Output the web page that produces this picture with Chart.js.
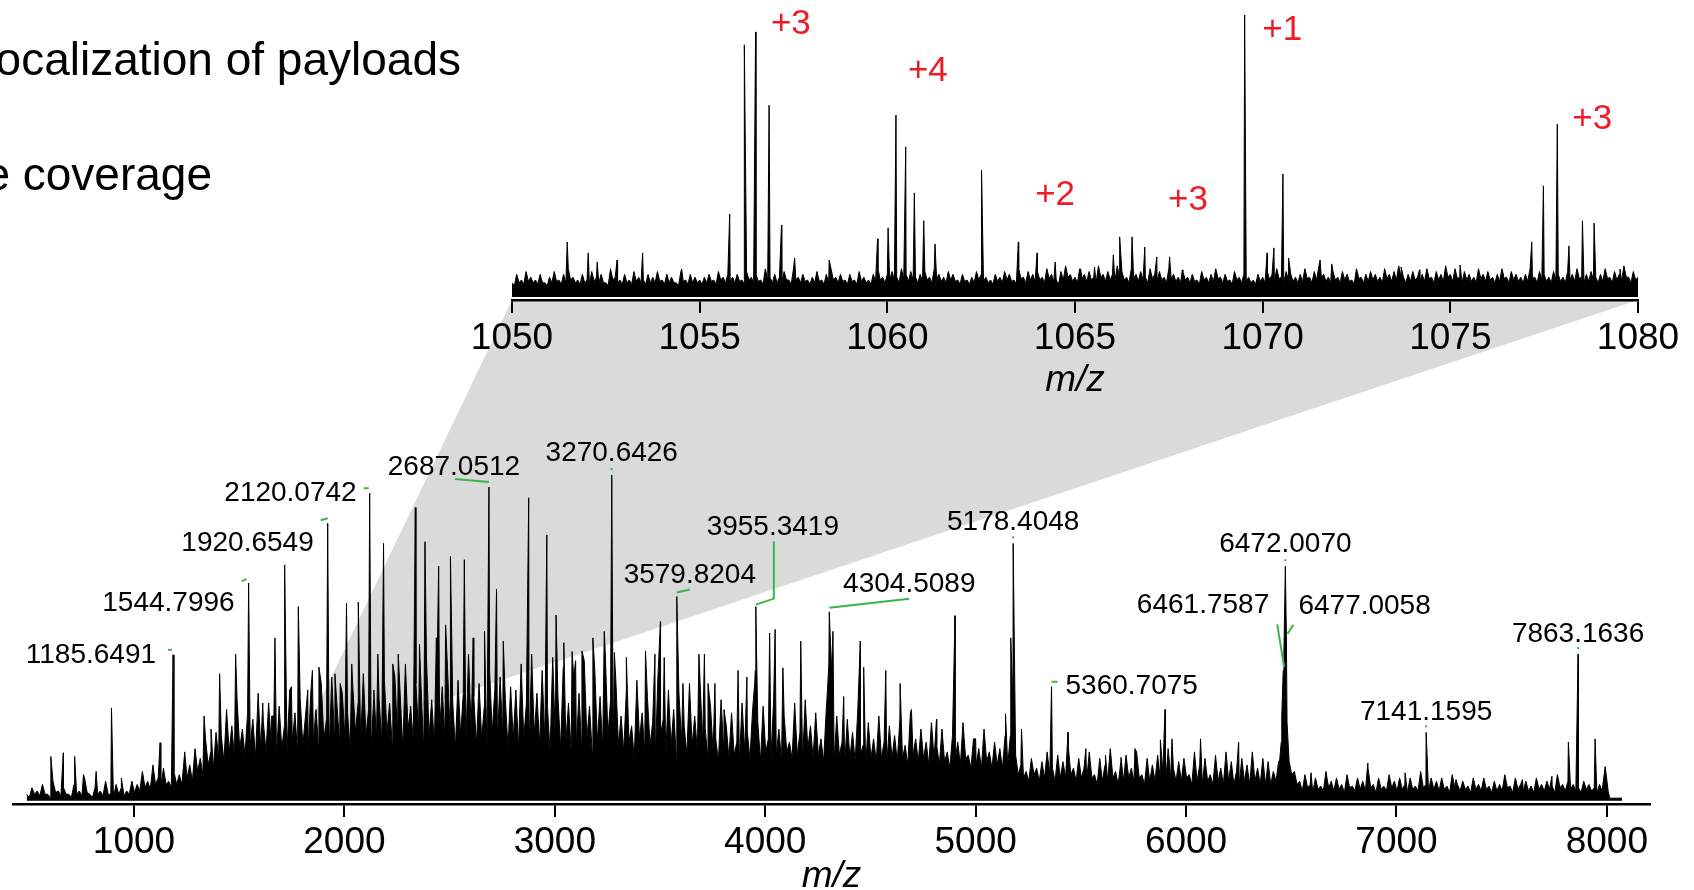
<!DOCTYPE html>
<html>
<head>
<meta charset="utf-8">
<title>Mass spectrum</title>
<script src="https://cdn.jsdelivr.net/npm/chart.js@4.4.1/dist/chart.umd.min.js"></script>
<style>
  html, body { margin: 0; padding: 0; background: #fff; }
  #wrap { position: relative; width: 1694px; height: 890px; overflow: hidden; }
  canvas { position: absolute; left: 0; top: 0; }
</style>
</head>
<body>
<div id="wrap">
  <canvas id="mainCanvas" width="1694" height="890"></canvas>
  <canvas id="insetCanvas" width="1694" height="890"></canvas>
</div>
<script>
const FONT = "'Liberation Sans', Arial, Helvetica, sans-serif";
const GREEN = '#39b54a';
const RED = '#ed1c24';

// ---- main spectrum (m/z 500 - 8000), intensity in % of the 3270 peak ----
const mainTickValues = [1000, 2000, 3000, 4000, 5000, 6000, 7000, 8000];
// spike tops, every 25 m/z from 490
const mainNoiseStart = 490;
const mainNoiseStep = 25;
const mainNoise = [
  2, 4, 3, 5, 2, 6, 3, 4, 2, 5, 3, 7, 2, 4, 3, 6, 2, 5, 4, 3, 6,           // 490-990
  5, 9, 6, 11, 7, 10, 6, 9,                                                // 1015-1190
  8, 14, 11, 16, 13, 19, 15, 21,                                           // 1215-1390
  20, 28, 23, 31, 22, 27, 25, 33, 24, 30, 26, 29, 23, 34, 27, 31,          // 1415-1790
  26, 33, 28, 36, 25, 38, 29, 33, 27, 35, 30, 39, 28, 34, 31, 37,          // 1815-2190
  30, 38, 33, 42, 29, 36, 34, 44, 31, 39, 35, 41, 30, 37, 33, 45, 32, 36, 29, 40, 34, 38, 31, 35, // 2215-2790
  34, 42, 30, 45, 33, 40, 29, 44, 32, 41, 30, 38, 33, 43, 29, 40, 32, 45, 31, 37, // 2815-3290
  26, 34, 23, 37, 27, 32, 24, 38, 25, 34, 28, 33, 23, 36, 26, 37,          // 3315-3690
  22, 29, 19, 31, 23, 27, 18, 30, 21, 28, 24, 29, 19, 31, 22, 26, 18, 30, 21, 31, 23, 27, 19, 28, // 3715-4290
  40, 26, 18, 25, 21, 28, 17, 24, 19, 26, 18, 23, 20, 25, 17, 27, 19, 22, 18, 24, // 4315-4790
  17, 22, 15, 20, 18, 24, 14, 19, 16, 22, 15, 18, 16, 20,                  // 4815-5140
  20, 14, 11, 9, 13, 10, 12, 15, 10, 14, 12, 17, 10, 13,                   // 5165-5490
  10, 15, 8, 13, 11, 16, 9, 12, 14, 10, 15, 8, 13, 11, 14, 9, 16, 10, 12, 13,
  8, 15, 11, 13, 8, 14, 10, 15, 12, 9, 13, 11, 15, 10, 13, 12,             // 5515-6390
  9, 12, 45, 12, 9,                                                        // 6415-6515
  6, 8, 5, 7, 4.5, 9, 6, 7, 5, 8, 4.5, 7, 6, 10, 5, 7, 4.5, 8, 6, 7,
  5, 7, 4.5, 9, 5, 7, 6, 7, 4.5, 8, 5, 6, 4.5, 7, 5, 7, 4.5, 6, 5, 8,
  4.5, 7, 5, 6, 4.5, 7, 5, 6, 4.5, 8,                                      // 6540-7790
  5, 6, 5, 4, 6, 5, 4, 5                                                   // 7815-7990
];
// gaps between the spikes, every 25 m/z from 502.5
const mainValleyStart = 502.5;
const mainValleys = [
  1, 2, 1.5, 2, 1, 2.5, 1.5, 2, 1, 2, 1.5, 2.5, 1, 2, 1.5, 2, 1, 2, 1.5, 2, 2.5,
  3, 4, 3.5, 5, 4, 5, 4, 5,
  5, 7, 6, 9, 8, 11, 10, 13,
  12, 15, 13, 16, 14, 17, 13, 16, 15, 17, 14, 16, 15, 18, 14, 17,
  15, 18, 16, 19, 15, 20, 17, 19, 16, 21, 18, 20, 16, 19, 18, 21,
  17, 20, 16, 22, 18, 21, 15, 20, 17, 22, 19, 21, 16, 20, 18, 22, 17, 19, 15, 21, 18, 20, 16, 19,
  16, 19, 15, 20, 17, 18, 15, 19, 16, 18, 15, 17, 16, 19, 15, 18, 16, 20, 15, 17,
  15, 18, 13, 19, 15, 17, 13, 20, 14, 17, 13, 18, 14, 17, 15, 18,
  13, 15, 12, 16, 13, 14, 12, 15, 13, 40, 12, 15, 13, 14, 12, 15, 13, 14, 12, 16, 13, 14, 12, 42,
  12, 14, 11, 13, 12, 14, 11, 13, 12, 13, 11, 13, 12, 13, 11, 14, 12, 13, 11, 13,
  11, 12, 10, 12, 11, 13, 10, 11, 10, 12, 10, 11, 10, 11,
  30, 8, 7, 6, 8, 6, 7, 8, 6, 7, 7, 8, 6, 7,
  6, 7, 5, 6, 6, 7, 5, 6, 7, 6, 7, 5, 6, 6, 7, 5, 7, 6, 6, 7,
  5, 6, 5, 6, 5, 6, 5, 6, 5, 5, 6, 5, 6, 5, 5, 5,
  6, 18, 45, 8, 5,
  3, 4, 2.5, 3.5, 3, 4, 3, 3.5, 2.5, 4, 3, 3.5, 3, 4, 2.5, 3.5, 3, 4, 3, 3.5,
  2.5, 3.5, 3, 4, 3, 3.5, 3, 3.5, 2.5, 4, 3, 3.5, 2.5, 3.5, 3, 3.5, 2.5, 3, 3, 4,
  2.5, 3.5, 3, 3, 2.5, 3.5, 3, 3.5, 2.5, 4,
  3, 3.5, 3, 2.5, 3.5, 3, 2.5, 3
];
const mainPeaks = [
  [605, 13.6], [664, 14.7], [718, 13.6], [760, 8], [820, 9], [893, 28.5], [940, 7],
  [1124, 17.8], [1185.6491, 44.8], [1241, 15], [1333, 26], [1366, 22], [1407, 39],
  [1483, 45], [1544.7996, 66.8], [1612, 30], [1654, 26], [1670, 50], [1716, 72.4],
  [1748, 35], [1781, 59.6], [1826, 34], [1848, 40], [1879, 41], [1916, 34],
  [1920.6549, 85.2], [1955, 39], [1980, 36], [2010, 60.7], [2035, 42], [2066, 61],
  [2120.0742, 94.4], [2139, 31], [2159, 45], [2186, 79], [2230, 42], [2256, 45],
  [2337, 90], [2357, 48], [2383, 79.5], [2437, 50], [2448, 72], [2481, 54], [2504, 75],
  [2570, 74], [2612, 50], [2666, 52], [2687.0512, 96.3], [2723, 65], [2755, 49],
  [2876, 93], [2962, 81.6], [3006, 57], [3043, 48.5], [3082, 45.8], [3099, 43],
  [3129, 46], [3181, 50], [3235, 52], [3270.6426, 100], [3283, 45.5], [3340, 44],
  [3431, 46], [3476, 45], [3502, 55], [3520, 44], [3579.8204, 62.7], [3609, 36],
  [3685, 45], [3711, 45], [3728, 36], [3761, 36], [3804, 28], [3871, 40], [3913, 38],
  [3950, 36], [3955.3419, 59.6], [3959, 45], [4021, 51.5], [4047, 52.6], [4084, 40.8],
  [4169, 49], [4295, 33], [4304.5089, 58], [4322, 52], [4373, 32], [4452, 49],
  [4468, 41], [4573, 40], [4641, 36], [4695, 28], [4814, 25], [4902, 56.8], [5000, 19],
  [5142, 26.7], [5167, 50], [5178.4048, 79], [5218, 22], [5360.7075, 35], [5439, 21],
  [5524, 16], [5617, 14], [5691, 13.3], [5757, 16], [5878, 18.7], [5900, 28], [5933, 19],
  [6069, 19], [6250, 18], [6445, 12.5], [6455, 26], [6461.7587, 40], [6472.0070, 72],
  [6477.0058, 50], [6480, 24], [6594, 8.6], [6864, 11.6], [7041, 8.6], [7141.1595, 21],
  [7283, 6.5], [7599, 6.5], [7739, 7.5], [7817, 18], [7863.1636, 45], [7944, 19],
  [7992, 10.5]
];
const mainTail = [[8008, 2], [8010, 0.8], [8072, 0.8]];

const mainLabels = [
  '1185.6491', '1544.7996', '1920.6549', '2120.0742', '2687.0512', '3270.6426',
  '3579.8204', '3955.3419', '4304.5089', '5178.4048', '5360.7075', '6472.0070',
  '6461.7587', '6477.0058', '7141.1595', '7863.1636'
];
// text offset and green leader line, in pixels from the peak top
const labelLayout = [
  { dx: -17, dy: 0, align: 'right', lead: [[-5, -5], [-1, -5]] },
  { dx: -14, dy: 20, align: 'right', lead: [[-7, -2], [-2, -4]] },
  { dx: -14, dy: 20, align: 'right', lead: [[-7, -3], [0, -5]] },
  { dx: -13, dy: 0, align: 'right', lead: [[-6, -5], [-1, -5]] },
  { dx: -35, dy: -20, align: 'center', lead: [[-34, -8], [0, -5]] },
  { dx: 0, dy: -22, align: 'center', lead: [[0, -7], [0, -5]] },
  { dx: 13, dy: -21, align: 'center', lead: [[0, -4], [13, -7]] },
  { dx: 17, dy: -79, align: 'center', lead: [[0, -2], [18, -8], [18, -65]] },
  { dx: 80, dy: -28, align: 'center', lead: [[0, -4], [80, -13]] },
  { dx: 0, dy: -21, align: 'center', lead: [[0, -7], [0, -5]] },
  { dx: 14, dy: 0, align: 'left', lead: [[0, -5], [6, -5]] },
  { dx: 0, dy: -22, align: 'center', lead: [[0, -7], [0, -5]] },
  { dx: -14, dy: -65, align: 'right', lead: [[1, -3], [-6, -46]] },
  { dx: 12, dy: -32, align: 'left', lead: [[1, -4], [7, -13]] },
  { dx: 0, dy: -20, align: 'center', lead: [[0, -7], [0, -5]] },
  { dx: 0, dy: -20, align: 'center', lead: [[0, -7], [0, -5]] }
];

// ---- zoomed inset (m/z 1050 - 1080), intensity in % of the 1069.5 peak ----
const insetTickValues = [1050, 1055, 1060, 1065, 1070, 1075, 1080];
const insetNoiseStart = 1050;
const insetNoiseStep = 0.125;
const insetNoise = [
  5, 8, 6, 9, 7, 6, 8, 5,     7, 9, 6, 8, 10, 7, 6, 8,    6, 9, 7, 8, 5, 10, 7, 6,
  8, 6, 9, 7, 6, 8, 7, 9,     6, 8, 7, 5, 9, 6, 8, 7,     6, 7, 8, 6, 9, 7, 8, 7,
  8, 6, 9, 7, 8, 6, 10, 7,    8, 7, 9, 6, 10, 7, 8, 6,    7, 9, 6, 8, 10, 7, 8, 6,
  8, 6, 9, 7, 6, 8, 10, 7,    8, 9, 7, 10, 8, 9, 7, 8,    9, 7, 10, 8, 7, 9, 8, 6,
  8, 6, 7, 9, 8, 7, 6, 8,     7, 9, 8, 6, 10, 7, 9, 8,    9, 7, 10, 8, 6, 9, 11, 8,
  7, 10, 8, 9, 7, 11, 8, 9,   8, 11, 9, 7, 10, 8, 9, 7,   10, 8, 9, 7, 10, 8, 7, 9,
  7, 8, 6, 9, 7, 8, 10, 7,    8, 6, 9, 7, 8, 7, 6, 8,     7, 9, 8, 10, 7, 9, 8, 7,
  8, 10, 7, 9, 11, 8, 7, 9,   7, 9, 8, 6, 10, 7, 8, 9,    8, 7, 10, 8, 9, 11, 7, 8,
  9, 7, 8, 10, 7, 9, 8, 11,   8, 10, 7, 9, 8, 7, 10, 8,   9, 7, 8, 10, 7, 9, 8, 7,
  8, 10, 7, 9, 8, 7, 9, 8,    7, 9, 8, 10, 7, 8, 9, 7,    8, 10, 7, 9, 8, 11, 7, 9,
  7
];
const insetValleyStart = 1050.0625;
const insetValleys = [
  4, 5, 4.5, 5.5, 5, 4.5, 5, 4,          5, 5.5, 4.5, 5, 6, 5, 4.5, 5,
  4.5, 5.5, 5, 5, 4, 6, 5, 4.5,          5, 4.5, 5.5, 5, 4.5, 5, 5, 5.5,
  4.5, 5, 5, 4, 5.5, 4.5, 5, 5,          4.5, 5, 5.5, 4.5, 6, 5, 5.5, 5,
  5.5, 4.5, 6, 5, 5.5, 4.5, 6, 5,        5, 5, 6, 4.5, 6, 5, 5.5, 4.5,
  5, 5.5, 4.5, 5, 6, 5, 5.5, 4.5,        5.5, 4.5, 5.5, 5, 4.5, 5.5, 6, 5,
  6, 6, 5, 6.5, 5.5, 6, 5, 5.5,          6, 5, 6.5, 5.5, 5, 6, 5.5, 4.5,
  5.5, 4.5, 5, 6, 5.5, 5, 4.5, 5.5,      5, 6, 5.5, 4.5, 6.5, 5, 6, 5.5,
  6, 5, 6.5, 5.5, 4.5, 6, 7, 5.5,        5, 6.5, 5.5, 6, 5, 7, 5.5, 6,
  5.5, 7, 6, 5, 6.5, 5.5, 6, 5,          6.5, 5.5, 6, 5, 6.5, 5.5, 5, 6,
  5, 5.5, 4.5, 6, 5, 5.5, 6.5, 5,        5.5, 4.5, 6, 5, 5.5, 5, 4.5, 5.5,
  5, 6, 5.5, 6.5, 5, 6, 5.5, 5,          5.5, 6.5, 5, 6, 7, 5.5, 5, 6,
  5, 6, 5.5, 4.5, 6.5, 5, 5.5, 6,        5.5, 5, 6.5, 5.5, 6, 7, 5, 5.5,
  6, 5, 5.5, 6.5, 5, 6, 5.5, 7,          5.5, 6.5, 5, 6, 5.5, 5, 6.5, 5.5,
  6, 5, 5.5, 6.5, 5, 6, 5.5, 5,          5.5, 6.5, 5, 6, 5.5, 5, 6, 5.5,
  5, 6, 5.5, 6.5, 5, 5.5, 6, 5,          5.5, 6.5, 5, 6, 5.5, 7, 5, 6
];
const insetPeaks = [
  [1051.47, 19.5], [1052.03, 15.6], [1052.27, 12.4], [1052.8, 13.1], [1053.48, 15.6],
  [1054.52, 9.9], [1055.8, 29.4], [1056.19, 89.4], [1056.49, 94], [1056.85, 68],
  [1057.18, 25.5], [1057.53, 13.8], [1058.45, 13.1], [1059.74, 20.6], [1060.02, 24.5],
  [1060.23, 64.5], [1060.49, 53.2], [1060.72, 36.9], [1060.97, 27], [1061.27, 18.8],
  [1062.51, 45], [1063.49, 19.5], [1063.99, 15.6], [1064.47, 12.4], [1065.15, 9.9],
  [1065.52, 10.6], [1066.02, 14.9], [1066.19, 21.3], [1066.52, 21.3], [1066.86, 17.7],
  [1067.18, 14.2], [1067.52, 14.2], [1067.86, 9.6], [1069.52, 100], [1070.12, 15.6],
  [1070.3, 17.4], [1070.54, 43.6], [1070.69, 13.8], [1071.53, 13.1], [1071.84, 11.7],
  [1073.69, 10.6], [1074.18, 9.6], [1075.26, 11.3], [1077.17, 19.5], [1077.48, 39.4],
  [1077.85, 61.3], [1078.16, 18.1], [1078.52, 27], [1078.83, 26.2], [1079.52, 9.9]
];
const chargeLabels = ['+3', '+4', '+2', '+3', '+1', '+3'];
const chargeAnchors = [[1057.43, 96.6], [1061.08, 80], [1064.47, 36], [1068.01, 34.2], [1070.52, 94.5], [1078.78, 62.9]];

const slideLines = ['ocalization of payloads', 'e coverage'];
const slideLayout = [[461, 75], [212, 190]];
const zoomApex = [1775, 16];   // where the grey wedge meets the main spectrum

function buildPoints(series) {
  const pts = [];
  series.forEach(s => {
    if (s.values) s.values.forEach((v, i) => pts.push({ x: s.start + i * s.step, y: v }));
    else s.pairs.forEach(p => pts.push({ x: p[0], y: p[1] }));
  });
  return pts.sort((a, b) => a.x - b.x);
}

function axisX(min, max, ticks, height) {
  return {
    type: 'linear', min: min, max: max,
    afterBuildTicks: s => { s.ticks = ticks.map(v => ({ value: v })); },
    afterFit: s => { s.height = height; },
    ticks: { font: { family: FONT, size: 37 }, color: '#000', padding: 4, maxRotation: 0, autoSkip: false, callback: v => String(v) },
    grid: { display: true, drawOnChartArea: false, drawTicks: true, tickLength: 13, color: '#000', lineWidth: 2 },
    border: { display: true, color: '#000', width: 2.5 },
    title: { display: true, text: 'm/z', color: '#000', padding: 0, font: { family: FONT, size: 37, style: 'italic', lineHeight: 0.7 } }
  };
}

const insetChart = new Chart(document.getElementById('insetCanvas'), {
  type: 'line',
  data: { datasets: [{
    data: buildPoints([
      { start: insetNoiseStart, step: insetNoiseStep, values: insetNoise },
      { start: insetValleyStart, step: insetNoiseStep, values: insetValleys },
      { pairs: insetPeaks }
    ]),
    borderColor: '#000', backgroundColor: '#000', borderWidth: 1,
    pointRadius: 0, fill: 'origin', tension: 0
  }] },
  options: {
    responsive: false, animation: false, devicePixelRatio: 1, parsing: false,
    layout: { padding: { left: 512, right: 56, top: 15, bottom: 496 } },
    plugins: { legend: { display: false }, tooltip: { enabled: false } },
    scales: {
      x: axisX(1050, 1080, insetTickValues, 94),
      y: { display: false, min: -1.1, max: 100 }
    }
  },
  plugins: [{
    id: 'chargeStates',
    afterDatasetsDraw(chart) {
      const ctx = chart.ctx, xs = chart.scales.x, ys = chart.scales.y;
      ctx.save();
      ctx.font = '35px ' + FONT;
      ctx.fillStyle = RED;
      ctx.textAlign = 'center';
      ctx.textBaseline = 'middle';
      chargeLabels.forEach((t, i) => {
        ctx.fillText(t, xs.getPixelForValue(chargeAnchors[i][0]), ys.getPixelForValue(chargeAnchors[i][1]));
      });
      ctx.restore();
    }
  }]
});

const mainChart = new Chart(document.getElementById('mainCanvas'), {
  type: 'line',
  data: { datasets: [{
    data: buildPoints([
      { start: mainNoiseStart, step: mainNoiseStep, values: mainNoise },
      { start: mainValleyStart, step: mainNoiseStep, values: mainValleys },
      { pairs: mainPeaks },
      { pairs: mainTail }
    ]),
    borderColor: '#000', backgroundColor: '#000', borderWidth: 1,
    pointRadius: 0, fill: 'origin', tension: 0
  }] },
  options: {
    responsive: false, animation: false, devicePixelRatio: 1, parsing: false,
    layout: { padding: { left: 13, right: 44, top: 475, bottom: 0 } },
    plugins: { legend: { display: false }, tooltip: { enabled: false } },
    scales: {
      x: axisX(425, 8205, mainTickValues, 86),
      y: { display: false, min: -1, max: 100 }
    }
  },
  plugins: [{
    id: 'mainDecor',
    beforeDatasetsDraw(chart) {
      // grey wedge from the inset axis down to the zoomed region
      const ctx = chart.ctx;
      const ix = insetChart.scales.x, top = insetChart.chartArea.bottom;
      ctx.save();
      ctx.fillStyle = '#dadada';
      ctx.beginPath();
      ctx.moveTo(ix.getPixelForValue(1050), top);
      ctx.lineTo(ix.getPixelForValue(1080), top);
      ctx.lineTo(chart.scales.x.getPixelForValue(zoomApex[0]), chart.scales.y.getPixelForValue(zoomApex[1]));
      ctx.closePath();
      ctx.fill();
      ctx.restore();
    },
    afterDatasetsDraw(chart) {
      const ctx = chart.ctx, xs = chart.scales.x, ys = chart.scales.y;
      ctx.save();
      ctx.font = '28px ' + FONT;
      ctx.textBaseline = 'middle';
      mainLabels.forEach((txt, i) => {
        const mz = parseFloat(txt);
        const pk = mainPeaks.find(p => p[0] === mz);
        const px = xs.getPixelForValue(mz), py = ys.getPixelForValue(pk[1]);
        const L = labelLayout[i];
        ctx.strokeStyle = GREEN;
        ctx.lineWidth = 2;
        ctx.beginPath();
        L.lead.forEach(([dx, dy], j) => j ? ctx.lineTo(px + dx, py + dy) : ctx.moveTo(px + dx, py + dy));
        ctx.stroke();
        ctx.fillStyle = '#000';
        ctx.textAlign = L.align;
        ctx.fillText(txt, px + L.dx, py + L.dy);
      });
      ctx.font = '46px ' + FONT;
      ctx.textAlign = 'right';
      ctx.textBaseline = 'alphabetic';
      slideLines.forEach((t, i) => ctx.fillText(t, slideLayout[i][0], slideLayout[i][1]));
      ctx.restore();
    }
  }]
});
</script>
</body>
</html>
